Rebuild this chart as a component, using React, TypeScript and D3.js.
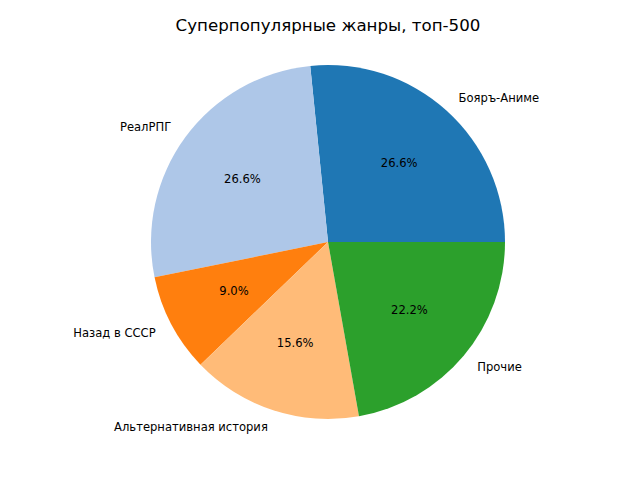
import * as d3 from 'd3';

// genre shares (percent)
const genres = ['Бояръ-Аниме', 'РеалРПГ', 'Назад в СССР', 'Альтернативная история', 'Прочие'];
const shares = [26.6, 26.6, 9.0, 15.6, 22.2];
const colors = ['#1f77b4', '#aec7e8', '#ff7f0e', '#ffbb78', '#2ca02c'];

const title = 'Суперпопулярные жанры, топ-500';

export default function App() {
  const width = 640, height = 480;
  const cx = 328, cy = 242, r = 177;

  // matplotlib style: start at 3 o'clock, go counterclockwise
  const pie = d3.pie<number>()
    .sort(null)
    .value(d => d)
    .startAngle(Math.PI / 2)
    .endAngle(Math.PI / 2 - 2 * Math.PI);

  const arcs = pie(shares);
  const arc = d3.arc<d3.PieArcDatum<number>>().innerRadius(0).outerRadius(r);

  const font = 'DejaVu Sans, sans-serif';
  const small = 11.57;

  return (
    <div style={{ position: 'absolute', left: 0, top: 0 }}>
      <svg width={width} height={height} style={{ background: '#fff', display: 'block' }}>
        <text x={cx} y={31} textAnchor="middle" fontFamily={font} fontSize={16.67} fill="#000">
          {title}
        </text>
        <g transform={`translate(${cx},${cy})`}>
          {arcs.map((a, i) => (
            <path key={i} d={arc(a) ?? ''} fill={colors[i]} />
          ))}
          {arcs.map((a, i) => {
            const mid = (a.startAngle + a.endAngle) / 2;
            const lx = 1.1 * r * Math.sin(mid);
            const ly = -1.1 * r * Math.cos(mid);
            const px = 0.6 * r * Math.sin(mid);
            const py = -0.6 * r * Math.cos(mid);
            return (
              <g key={i}>
                <text x={lx} y={ly} dy="0.35em" textAnchor={lx > 0 ? 'start' : 'end'}
                  fontFamily={font} fontSize={small} fill="#000">
                  {genres[i]}
                </text>
                <text x={px} y={py} dy="0.35em" textAnchor="middle"
                  fontFamily={font} fontSize={small} fill="#000">
                  {shares[i].toFixed(1) + '%'}
                </text>
              </g>
            );
          })}
        </g>
      </svg>
    </div>
  );
}
